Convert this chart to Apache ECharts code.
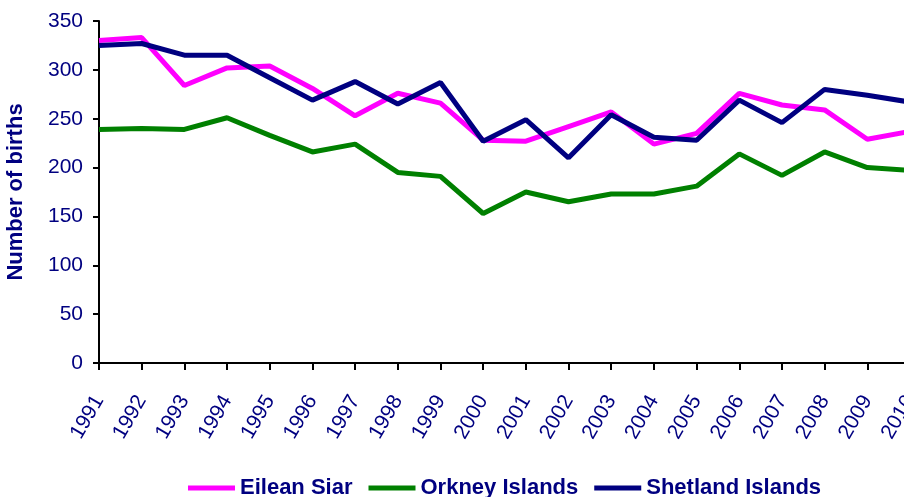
<!DOCTYPE html>
<html><head><meta charset="utf-8">
<script src="https://cdn.jsdelivr.net/npm/echarts@6/dist/echarts.min.js"></script>
<style>html,body{margin:0;padding:0;background:#fff}#c{width:904px;height:497px}</style>
</head><body><div id="c"></div>
<script>
var years = ['1991','1992','1993','1994','1995','1996','1997','1998','1999','2000','2001','2002','2003','2004','2005','2006','2007','2008','2009','2010'];
var eileanSiar = [330,333,284,302,304,281,253,276,266,228,227,242,257,224,235,276,264,259,229,237];
var orkney = [239,240,239,251,233,216,224,195,191,153,175,165,173,173,181,214,192,216,200,197];
var shetland = [325,327,315,315,292,269,288,265,287,227,249,210,254,231,228,269,246,280,274,267];
var yTicks = {min:0, max:350, interval:50};

var navy = '#000080';
var font = 'Arial, "Liberation Sans", sans-serif';
var chart = echarts.init(document.getElementById('c'), null, {renderer:'canvas'});
chart.setOption({
  animation:false,
  backgroundColor:'#fff',
  grid:{left:99, width:811, top:21, bottom:134, containLabel:false, outerBoundsMode:'none'},
  legend:{
    bottom:-7, left:183,
    itemWidth:47, itemHeight:5, itemGap:16, icon:'rect',
    textStyle:{color:navy, fontFamily:font, fontWeight:'bold', fontSize:22},
    data:['Eilean Siar','Orkney Islands','Shetland Islands']
  },
  xAxis:{
    type:'category', data:years, boundaryGap:false,
    axisLine:{lineStyle:{color:'#000', width:2}},
    axisTick:{show:true, length:7, alignWithLabel:true, lineStyle:{color:'#000', width:2}},
    axisLabel:{rotate:60, margin:34, padding:[0,0,12,0], color:navy, fontFamily:font, fontSize:21, interval:0},
    splitLine:{show:false}
  },
  yAxis:{
    type:'value', min:yTicks.min, max:yTicks.max, interval:yTicks.interval,
    name:'Number of births', nameLocation:'middle', nameGap:72, nameRotate:90,
    nameTextStyle:{color:navy, fontFamily:font, fontWeight:'bold', fontSize:22},
    axisLine:{show:true, lineStyle:{color:'#000', width:2}},
    axisTick:{show:true, length:6, lineStyle:{color:'#000', width:2}},
    axisLabel:{margin:16, color:navy, fontFamily:font, fontSize:21},
    splitLine:{show:false}
  },
  series:[
    {name:'Eilean Siar', type:'line', data:eileanSiar, symbol:'none', lineStyle:{color:'#FF00FF', width:5}, itemStyle:{color:'#FF00FF'}},
    {name:'Orkney Islands', type:'line', data:orkney, symbol:'none', lineStyle:{color:'#008000', width:5}, itemStyle:{color:'#008000'}},
    {name:'Shetland Islands', type:'line', data:shetland, symbol:'none', lineStyle:{color:navy, width:5}, itemStyle:{color:navy}}
  ]
});
</script></body></html>
